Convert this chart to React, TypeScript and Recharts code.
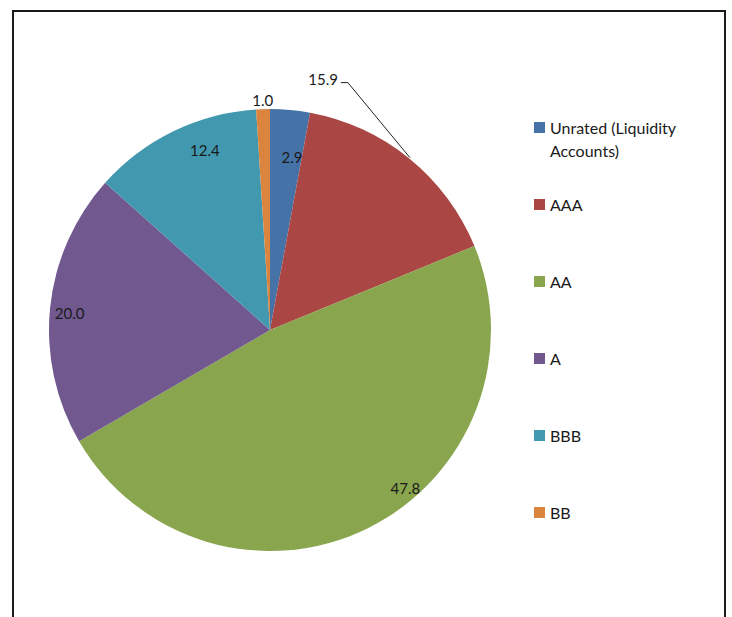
import React from "react";
import { PieChart, Pie, Cell, Legend } from "recharts";

const categories = ["Unrated (Liquidity Accounts)", "AAA", "AA", "A", "BBB", "BB"];
const shares = [2.9, 15.9, 47.8, 20.0, 12.4, 1.0];
const sliceColors = ["#4572A7", "#AA4643", "#89A54E", "#71588F", "#4198AF", "#DB843D"];

const data = categories.map((name, i) => ({ name, value: shares[i] }));

const RAD = Math.PI / 180;
// label placement tweaks per slice: radius factor and angle nudge (degrees)
const labelRadius = [0.79, 1.0, 0.94, 0.91, 0.865, 1.04];
const labelNudge = [-2, 0, 14.4, 0.8, -6, 0];

const fontFam = "Lato, 'Open Sans', sans-serif";

const renderLabel = (props: any) => {
  const { cx, cy, midAngle, outerRadius, index, value } = props;
  const text = Number(value).toFixed(1);
  if (index === 1) {
    // outside label with a leader line
    const ex = cx + (outerRadius + 1) * Math.cos(-midAngle * RAD);
    const ey = cy + (outerRadius + 1) * Math.sin(-midAngle * RAD);
    const bx = ex - 62;
    const by = ey - 75;
    return (
      <g>
        <polyline points={`${bx - 7},${by} ${bx},${by} ${ex},${ey}`} fill="none" stroke="#222" strokeWidth={1} />
        <text x={bx - 10} y={by - 4} textAnchor="end" dominantBaseline="central" fontSize={15} fill="#1a1a1a" fontFamily={fontFam}>
          {text}
        </text>
      </g>
    );
  }
  const a = midAngle + labelNudge[index];
  const r = outerRadius * labelRadius[index];
  const x = cx + r * Math.cos(-a * RAD);
  const y = cy + r * Math.sin(-a * RAD);
  return (
    <text x={x} y={y} textAnchor="middle" dominantBaseline="central" fontSize={15} fill="#1a1a1a" fontFamily={fontFam}>
      {text}
    </text>
  );
};

const renderLegend = () => (
  <div style={{ fontFamily: fontFam, fontSize: 16, color: "#1a1a1a" }}>
    {categories.map((name, i) => (
      <div key={name} style={{ height: 77, display: "flex", alignItems: "flex-start" }}>
        <span style={{ width: 11, height: 11, background: sliceColors[i], marginTop: 6, marginRight: 5, flexShrink: 0 }} />
        <span style={{ width: 150, lineHeight: "23px" }}>{name}</span>
      </div>
    ))}
  </div>
);

export default function App() {
  return (
    <div
      style={{
        position: "fixed",
        left: 12,
        top: 10,
        width: 714,
        height: 620,
        border: "2px solid #1a1a1a",
        borderBottom: "none",
        boxSizing: "border-box",
        background: "#fff",
        overflow: "hidden",
      }}
    >
      <PieChart width={710} height={616} margin={{ top: 0, right: 0, bottom: 0, left: 0 }}>
        <Pie
          data={data}
          dataKey="value"
          nameKey="name"
          cx={256}
          cy={318}
          outerRadius={221}
          startAngle={90}
          endAngle={-270}
          stroke="none"
          label={renderLabel}
          labelLine={false}
          isAnimationActive={false}
        >
          {data.map((d, i) => (
            <Cell key={d.name} fill={sliceColors[i]} />
          ))}
        </Pie>
        <Legend
          layout="vertical"
          verticalAlign="top"
          align="right"
          wrapperStyle={{ left: 520, right: "auto", top: 104, width: 190 }}
          content={renderLegend}
        />
      </PieChart>
    </div>
  );
}
